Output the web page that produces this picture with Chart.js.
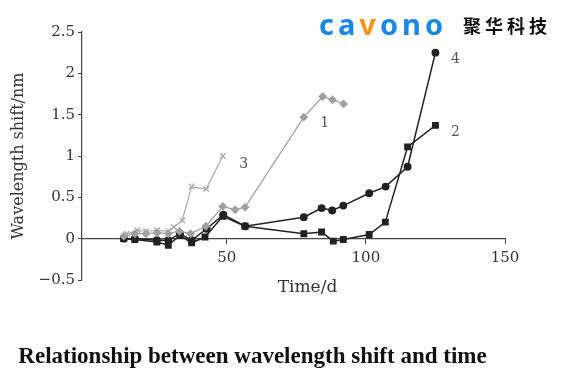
<!DOCTYPE html>
<html>
<head>
<meta charset="utf-8">
<script src="https://cdn.jsdelivr.net/npm/chart.js@4"></script>
<style>
  html, body { margin: 0; padding: 0; background: #fff; }
  #wrap { position: relative; width: 568px; height: 389px; overflow: hidden; }
  #c { position: absolute; left: 0; top: 0; }
  #logo { position: absolute; left: 319px; top: 4px; font-family: "Noto Sans", sans-serif; font-weight: 700; font-size: 29px; letter-spacing: 4px; color: #1a86e6; white-space: nowrap; }
  #logo .v { color: #f2961b; }
  #cn { position: absolute; left: 463px; top: 12px; font-family: "Noto Sans CJK SC", sans-serif; font-weight: 700; font-size: 18px; letter-spacing: 4px; color: #111; white-space: nowrap; }
  #caption { position: absolute; left: 0; width: 505px; top: 343px; text-align: center; font-family: "Liberation Serif", serif; font-weight: 700; font-size: 23px; color: #111; white-space: nowrap; }
</style>
</head>
<body>
<div id="wrap">
  <canvas id="c" width="568" height="389"></canvas>
  <div id="logo">ca<span class="v">v</span>ono</div>
  <div id="cn">聚华科技</div>
  <div id="caption">Relationship between wavelength shift and time</div>
</div>
<script>
// ---- data ----
const seriesNames = ["1", "2", "3", "4"];

const time1  = [13, 17, 21, 25, 29, 33, 37, 42.5, 48.6, 53, 56.6, 77.7, 84.5, 88, 92];
const shift1 = [0.03, 0.06, 0.06, 0.07, 0.06, 0.09, 0.06, 0.15, 0.39, 0.35, 0.38, 1.47, 1.72, 1.68, 1.63];

const time2  = [13, 17, 24.9, 29, 33.2, 37.4, 42.2, 48.6, 56.6, 77.7, 84.1, 88.3, 91.9, 101.2, 107, 115, 125];
const shift2 = [0.0, -0.01, -0.04, -0.08, 0.04, -0.05, 0.02, 0.27, 0.15, 0.06, 0.08, -0.03, -0.01, 0.05, 0.2, 1.11, 1.37];

const time3  = [14, 18, 21, 25, 29, 31, 34, 37.4, 42.6, 48.6];
const shift3 = [0.06, 0.1, 0.09, 0.1, 0.09, 0.14, 0.22, 0.63, 0.6, 1.0];

const time4  = [13, 17, 24.9, 29, 33.2, 37.4, 42.8, 48.8, 56.6, 77.7, 84.1, 87.9, 91.9, 101.2, 107.1, 115, 125];
const shift4 = [0.0, 0.0, -0.02, -0.02, 0.06, -0.02, 0.12, 0.29, 0.15, 0.26, 0.37, 0.34, 0.4, 0.55, 0.63, 0.87, 2.25];

const xTickValues = [50, 100, 150];
const yTickValues = [-0.5, 0, 0.5, 1, 1.5, 2, 2.5];
const yTickLabels = ["\u22120.5", "0", "0.5", "1", "1.5", "2", "2.5"];

const xTitle = "Time/d";
const yTitle = "Wavelength shift/nm";

// ---- build ----
const pts = (xs, ys) => xs.map((x, i) => ({ x: x, y: ys[i] }));

const serif = "'DejaVu Serif', serif";

const seriesLabelPlugin = {
  id: 'seriesLabels',
  afterDatasetsDraw(chart) {
    const ctx = chart.ctx;
    const offsets = [[-19, 19], [20, 7], [21, 8], [20, 7]];
    ctx.save();
    ctx.font = "14px " + serif;
    ctx.fillStyle = "#555";
    ctx.textAlign = "center";
    ctx.textBaseline = "middle";
    chart.data.datasets.forEach((ds, i) => {
      const meta = chart.getDatasetMeta(i);
      const last = meta.data[meta.data.length - 1];
      ctx.fillText(ds.label, last.x + offsets[i][0], last.y + offsets[i][1]);
    });
    // x-axis title (placed a little right of the plot centre, as in the reference)
    const xs = chart.scales.x, ys = chart.scales.y;
    ctx.font = "17px " + serif;
    ctx.fillStyle = "#333";
    ctx.fillText(xTitle, (xs.left + xs.right) / 2 + 14, ys.getPixelForValue(0) + 49);
    ctx.restore();
  }
};

new Chart(document.getElementById('c'), {
  type: 'scatter',
  data: {
    datasets: [
      { label: seriesNames[0], data: pts(time1, shift1), showLine: true, borderColor: '#a0a0a0', backgroundColor: '#a0a0a0',
        borderWidth: 1.3, pointStyle: 'rectRot', pointRadius: 3.5, tension: 0 },
      { label: seriesNames[1], data: pts(time2, shift2), showLine: true, borderColor: '#222', backgroundColor: '#222',
        borderWidth: 1.5, pointStyle: 'rect', pointRadius: 3.8, tension: 0 },
      { label: seriesNames[2], data: pts(time3, shift3), showLine: true, borderColor: '#a8a8a8', backgroundColor: '#a8a8a8',
        borderWidth: 1.2, pointStyle: 'crossRot', pointRadius: 4, pointBorderWidth: 1.3, tension: 0 },
      { label: seriesNames[3], data: pts(time4, shift4), showLine: true, borderColor: '#222', backgroundColor: '#222',
        borderWidth: 1.5, pointStyle: 'circle', pointRadius: 3.2, tension: 0 }
    ]
  },
  options: {
    responsive: false,
    animation: false,
    devicePixelRatio: 1,
    layout: { padding: { top: 32, right: 63, bottom: 109, left: 0 } },
    plugins: { legend: { display: false }, tooltip: { enabled: false }, title: { display: false } },
    scales: {
      x: {
        type: 'linear',
        position: { y: 0 },
        min: -2, max: 150,
        afterBuildTicks: s => { s.ticks = xTickValues.map(v => ({ value: v })); },
        grid: { display: true, drawOnChartArea: false, drawTicks: true, tickLength: 5, color: '#444', lineWidth: 1 },
        border: { display: true, color: '#444', width: 1.2 },
        ticks: { color: '#333', font: { family: serif, size: 15 }, padding: 5 },
        title: { display: false }
      },
      y: {
        type: 'linear',
        min: -0.5, max: 2.5,
        afterBuildTicks: s => { s.ticks = yTickValues.map(v => ({ value: v })); },
        afterFit: s => { s.width = 82; },
        grid: { display: true, drawOnChartArea: false, drawTicks: true, tickLength: 4, color: '#444', lineWidth: 1 },
        border: { display: true, color: '#444', width: 1.2 },
        ticks: { color: '#333', font: { family: serif, size: 15 }, padding: 3,
                 callback: (v) => { const i = yTickValues.indexOf(v); return i >= 0 ? yTickLabels[i] : ''; } },
        title: { display: true, text: yTitle, color: '#333', font: { family: serif, size: 16 }, padding: { top: 9, bottom: 0 } }
      }
    }
  },
  plugins: [seriesLabelPlugin]
});
</script>
</body>
</html>
